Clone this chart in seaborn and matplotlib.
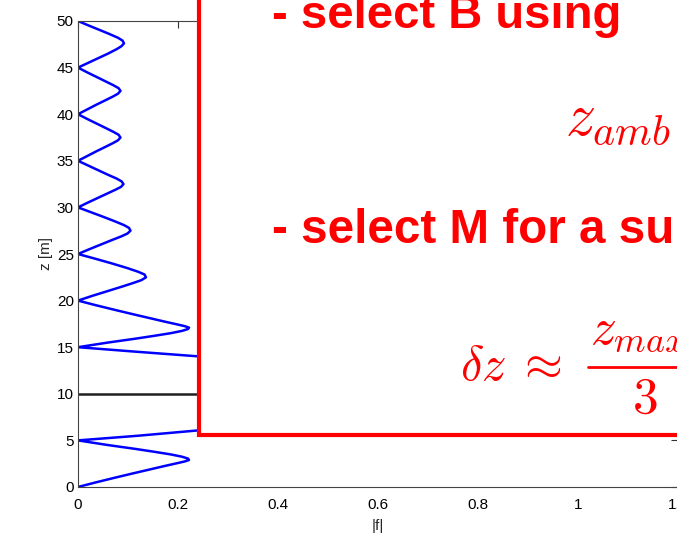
import numpy as np
import matplotlib
matplotlib.use("Agg")
import matplotlib.pyplot as plt
import matplotlib.patches as patches
from matplotlib.lines import Line2D
import seaborn as sns

z_vals = [0, 0.5, 1.0, 1.5, 2.0, 2.3, 2.55, 2.75, 2.9, 3.05, 3.25, 3.5, 3.8, 4.1, 4.5, 5.0,
          5.5, 6.0, 6.5, 7.0, 8.0, 9.0, 10.0, 11.0, 12.0, 13.0, 13.5, 14.0, 14.5,
          15.0, 15.5, 15.9, 16.2, 16.5, 16.75, 16.95, 17.1, 17.25, 17.45, 17.7, 18.0, 18.5, 19.0, 19.5,
          20.0, 20.5, 21.0, 21.5, 21.9, 22.2, 22.5, 22.8, 23.1, 23.5, 24.0, 24.5,
          25.0, 25.5, 26.0, 26.5, 26.9, 27.2, 27.5, 27.8, 28.1, 28.5, 29.0, 29.5,
          30.0, 30.5, 31.0, 31.5, 31.9, 32.2, 32.5, 32.8, 33.1, 33.5, 34.0, 34.5,
          35.0, 35.5, 36.0, 36.5, 36.9, 37.2, 37.5, 37.8, 38.1, 38.5, 39.0, 39.5,
          40.0, 40.5, 41.0, 41.5, 41.9, 42.2, 42.5, 42.8, 43.1, 43.5, 44.0, 44.5,
          45.0, 45.5, 46.0, 46.5, 47.0, 47.3, 47.6, 47.9, 48.2, 48.6, 49.0, 49.5, 50.0]
f_vals = [0, 0.036, 0.074, 0.113, 0.153, 0.177, 0.198, 0.214, 0.222, 0.220, 0.208, 0.185, 0.15, 0.113, 0.06, 0,
          0.12, 0.225, 0.33, 0.5, 0.75, 0.93, 1.0, 0.93, 0.75, 0.5, 0.37, 0.245, 0.12,
          0, 0.06, 0.113, 0.15, 0.185, 0.208, 0.220, 0.222, 0.214, 0.198, 0.177, 0.153, 0.113, 0.074, 0.036,
          0, 0.028, 0.058, 0.088, 0.111, 0.127, 0.136, 0.133, 0.12, 0.098, 0.067, 0.034,
          0, 0.022, 0.045, 0.068, 0.087, 0.099, 0.105, 0.102, 0.092, 0.074, 0.05, 0.025,
          0, 0.019, 0.039, 0.059, 0.075, 0.086, 0.091, 0.087, 0.077, 0.06, 0.04, 0.02,
          0, 0.018, 0.036, 0.055, 0.07, 0.08, 0.085, 0.081, 0.071, 0.056, 0.037, 0.018,
          0, 0.018, 0.036, 0.055, 0.07, 0.08, 0.085, 0.081, 0.071, 0.056, 0.037, 0.018,
          0, 0.02, 0.04, 0.06, 0.078, 0.087, 0.092, 0.089, 0.08, 0.063, 0.045, 0.022, 0]

x_ticks = [0, 0.2, 0.4, 0.6, 0.8, 1.0, 1.2]
x_ticklabels = ["0", "0.2", "0.4", "0.6", "0.8", "1", "1.2"]
y_ticks = [0, 5, 10, 15, 20, 25, 30, 35, 40, 45, 50]
z_line = 10

sns.set_style("white")
plt.rcParams["font.family"] = ["Liberation Sans", "DejaVu Sans"]
plt.rcParams["mathtext.fontset"] = "cm"

W, H = 677, 536
fig = plt.figure(figsize=(6.77, 5.36), dpi=100)
ax = fig.add_axes([78 / W, 49 / H, 600 / W, 466 / H])

sns.lineplot(x=f_vals, y=z_vals, sort=False, estimator=None, color="#0000ff",
             lw=1.8, ax=ax)
ax.axhline(z_line, color="#202020", lw=1.8)

ax.set_xlim(0, 1.2)
ax.set_ylim(0, 50)
ax.set_xticks(x_ticks)
ax.set_xticklabels(x_ticklabels)
ax.set_yticks(y_ticks)
ax.tick_params(direction="in", top=True, right=True, length=5, width=0.8,
               colors="#333333", labelcolor="black", labelsize=11)
ax.tick_params(axis="x", pad=8)
ax.tick_params(axis="y", pad=3)
for s in ax.spines.values():
    s.set_color("#444444")
    s.set_linewidth(0.8)
ax.set_xlabel("|f|", fontsize=11, labelpad=5)
ax.set_ylabel("z [m]", fontsize=11, labelpad=3)

# red framed overlay box
box = patches.Rectangle((199 / W, (H - 435) / H), 1, 1, transform=fig.transFigure,
                        fc="white", ec="red", lw=3, zorder=5)
fig.add_artist(box)

fig.text(272 / W, (H - 28) / H, "- select B using", color="red", fontsize=34,
         fontweight="bold", va="baseline", zorder=6)
fig.text(565 / W, (H - 135) / H, r"$z_{amb}$", color="red", fontsize=43,
         va="baseline", zorder=6)
fig.text(272 / W, (H - 243) / H, "- select M for a su", color="red", fontsize=34.3,
         fontweight="bold", va="baseline", zorder=6)

# delta z ~ z_max / 3
fig.text(460 / W, (H - 380) / H, r"$\delta z \;\approx$", color="red", fontsize=35,
         va="baseline", zorder=6)
fig.text(590 / W, (H - 344) / H, r"$z_{max}$", color="red", fontsize=37,
         va="baseline", zorder=6)
fig.add_artist(Line2D([588 / W, 1.05], [(H - 367) / H, (H - 367) / H],
                      transform=fig.transFigure, color="red", lw=2, zorder=6))
fig.text(645 / W, (H - 413) / H, r"$3$", color="red", fontsize=37,
         ha="center", va="baseline", zorder=6)

fig.savefig("out.png", dpi=100)
